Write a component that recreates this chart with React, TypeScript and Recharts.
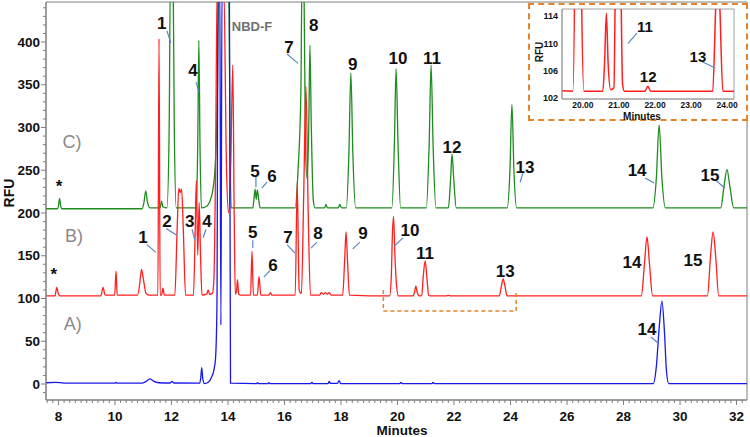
import { LineChart, Line, XAxis, YAxis, ReferenceArea, ReferenceLine, ReferenceDot } from 'recharts';

type Pt = [number, number];
type Tag = { text: string; t: number; v: number; lead?: [number, number, number, number] };

// C) trace, minutes vs RFU (offset +205)
const traceC: Pt[] = [
  [7.56, 205], [7.96, 205], [8.0, 208], [8.04, 217], [8.08, 208], [8.13, 205],
  [10.96, 205], [11.03, 213], [11.09, 226], [11.15, 213], [11.24, 206],
  [11.6, 206], [11.65, 214], [11.7, 207],
  [11.84, 206], [11.92, 300], [11.96, 470], [12.06, 470], [12.1, 300], [12.17, 206],
  [12.88, 206], [12.93, 280], [12.97, 402], [13.01, 280], [13.06, 206],
  [13.2, 207], [13.35, 213], [13.47, 228], [13.56, 262], [13.62, 330], [13.68, 470], [14.03, 470], [14.07, 300], [14.11, 206],
  [14.88, 206], [14.93, 220], [14.96, 228], [15.0, 216], [15.04, 227], [15.09, 215], [15.14, 206],
  [16.38, 206], [16.48, 250], [16.58, 340], [16.62, 470], [16.69, 470], [16.74, 280], [16.8, 240], [16.86, 300], [16.9, 396], [16.95, 300], [17.02, 215], [17.08, 206],
  [17.42, 206], [17.47, 210], [17.52, 206], [17.9, 206], [17.96, 210], [18.02, 206],
  [18.19, 206], [18.28, 270], [18.35, 364], [18.42, 270], [18.52, 206],
  [19.8, 206], [19.89, 280], [19.95, 369], [20.02, 280], [20.11, 206],
  [21.02, 206], [21.12, 280], [21.19, 373], [21.26, 280], [21.36, 206],
  [21.8, 206], [21.88, 240], [21.93, 269], [21.99, 240], [22.08, 206],
  [23.88, 206], [23.98, 250], [24.05, 327], [24.12, 250], [24.22, 206],
  [29.04, 206], [29.16, 240], [29.26, 303], [29.36, 240], [29.48, 206],
  [31.44, 206], [31.56, 232], [31.66, 251], [31.76, 232], [31.9, 206],
  [32.37, 206],
];

// B) trace (offset +103)
const traceB: Pt[] = [
  [7.56, 103], [7.88, 103], [7.94, 113], [8.0, 105], [8.06, 103],
  [9.5, 103], [9.58, 113], [9.65, 104],
  [9.99, 104], [10.04, 132], [10.08, 104],
  [10.8, 104], [10.88, 118], [10.94, 134], [11.0, 124], [11.1, 106], [11.2, 104],
  [11.52, 104], [11.56, 404], [11.6, 104],
  [11.65, 104], [11.7, 112], [11.75, 104],
  [12.12, 104], [12.2, 180], [12.26, 229], [12.31, 224], [12.36, 228], [12.42, 180], [12.5, 104],
  [12.78, 104], [12.84, 180], [12.88, 238], [12.93, 151], [12.98, 212], [13.03, 150], [13.08, 104],
  [13.25, 105], [13.3, 110], [13.35, 105], [13.45, 106],
  [13.5, 120], [13.56, 250], [13.62, 470], [13.85, 470], [13.95, 250], [14.02, 200], [14.1, 260], [14.17, 373], [14.22, 200], [14.26, 105], [14.3, 108], [14.34, 122], [14.38, 105], [14.45, 104],
  [14.8, 104], [14.85, 155], [14.9, 104],
  [15.04, 104], [15.1, 126], [15.16, 104],
  [15.45, 104], [15.5, 107], [15.55, 104],
  [16.38, 104], [16.45, 235], [16.52, 110], [16.6, 106], [16.68, 220], [16.76, 348], [16.84, 200], [16.92, 104],
  [17.25, 104], [17.3, 107], [17.38, 105], [17.45, 107], [17.52, 105], [17.58, 107], [17.65, 104],
  [18.06, 104], [18.13, 145], [18.18, 178], [18.23, 145], [18.3, 104],
  [19.72, 103], [19.78, 125], [19.82, 175], [19.86, 196], [19.91, 150], [19.96, 118], [20.03, 103],
  [20.55, 103], [20.6, 107], [20.65, 114.4], [20.7, 107], [20.77, 103.2],
  [20.86, 103.5], [20.91, 125], [20.98, 144], [21.04, 125], [21.1, 104], [21.15, 103],
  [21.72, 103], [21.8, 103.7], [21.88, 103],
  [23.6, 103], [23.68, 115], [23.74, 123], [23.8, 115], [23.88, 103],
  [28.63, 103], [28.74, 140], [28.83, 172], [28.92, 140], [29.03, 103],
  [30.97, 103], [31.08, 150], [31.17, 178], [31.26, 150], [31.37, 103],
  [32.37, 103],
];

// A) trace
const traceA: Pt[] = [
  [7.56, 1.5], [7.9, 2], [8.2, 1], [10.0, 1], [10.04, 2], [10.08, 1],
  [10.95, 1], [11.1, 3], [11.24, 6], [11.38, 3], [11.55, 1.5],
  [11.95, 1.2], [12.02, 3], [12.08, 1.2],
  [13.0, 1], [13.04, 8], [13.07, 19], [13.11, 6], [13.17, 0.5], [13.3, 2], [13.42, 8], [13.5, 16], [13.56, 30], [13.61, 90],
  [13.65, 470], [13.71, 470], [13.75, 69], [13.79, 470], [14.05, 470], [14.09, 1],
  [15.0, 0.5], [15.05, 1.5], [15.1, 0.5], [15.4, 0.5], [15.45, 1.5], [15.5, 0.5],
  [16.93, 0.5], [16.97, 2], [17.01, 0.5], [17.54, 0.5], [17.58, 3], [17.63, 0.8], [17.88, 0.8], [17.93, 4], [17.99, 0.5],
  [20.08, 0.5], [20.12, 2], [20.16, 0.5], [21.22, 0.5], [21.26, 2], [21.3, 0.5],
  [29.05, 0.5], [29.16, 20], [29.26, 65], [29.36, 97], [29.45, 60], [29.52, 15], [29.6, 0.5],
  [32.37, 0.5],
];

const xMajor = [8, 10, 12, 14, 16, 18, 20, 22, 24, 26, 28, 30, 32];
const yMajor = [0, 50, 100, 150, 200, 250, 300, 350, 400];
const insetXTicks = [20, 21, 22, 23, 24];
const insetYTicks = [102, 106, 110, 114];

const tagsC: Tag[] = [
  { text: '*', t: 8.02, v: 231.6 },
  { text: '1', t: 11.66, v: 422, lead: [11.84, 413, 11.98, 399] },
  { text: '4', t: 12.76, v: 367, lead: [12.87, 353, 12.97, 342] },
  { text: '5', t: 14.96, v: 249, lead: [14.99, 242, 14.99, 230] },
  { text: '6', t: 15.56, v: 243, lead: [15.38, 236, 15.2, 229] },
  { text: '7', t: 16.16, v: 394, lead: [16.09, 386, 16.48, 375] },
  { text: '8', t: 17.04, v: 420 },
  { text: '9', t: 18.42, v: 374 },
  { text: '10', t: 20.02, v: 381 },
  { text: '11', t: 21.22, v: 381 },
  { text: '12', t: 21.93, v: 277 },
  { text: '13', t: 24.51, v: 254, lead: [24.44, 247, 24.34, 236] },
  { text: '14', t: 28.48, v: 250, lead: [28.76, 241, 29.08, 235] },
  { text: '15', t: 31.06, v: 244, lead: [31.24, 239, 31.59, 229] },
];

const tagsB: Tag[] = [
  { text: '*', t: 7.84, v: 128.7 },
  { text: '1', t: 10.99, v: 172, lead: [11.13, 163, 11.45, 154] },
  { text: '2', t: 11.84, v: 191, lead: [11.81, 182, 12.19, 174] },
  { text: '3', t: 12.65, v: 191, lead: [12.73, 181, 12.83, 168] },
  { text: '4', t: 13.26, v: 191, lead: [13.22, 181, 13.12, 171] },
  { text: '5', t: 14.88, v: 178, lead: [14.88, 168, 14.88, 159] },
  { text: '6', t: 15.59, v: 139, lead: [15.49, 133, 15.27, 125] },
  { text: '7', t: 16.12, v: 172, lead: [16.09, 163, 16.37, 153] },
  { text: '8', t: 17.19, v: 177, lead: [17.15, 166, 16.94, 159] },
  { text: '9', t: 18.78, v: 177, lead: [18.67, 166, 18.42, 158] },
  { text: '10', t: 20.44, v: 180, lead: [20.19, 171, 19.88, 161] },
  { text: '11', t: 20.97, v: 153 },
  { text: '13', t: 23.81, v: 132 },
  { text: '14', t: 28.3, v: 143 },
  { text: '15', t: 30.46, v: 145 },
];

const tagsA: Tag[] = [
  { text: '14', t: 28.83, v: 64, lead: [28.97, 55, 29.22, 48] },
];

const groupTags: Tag[] = [
  { text: 'C)', t: 8.48, v: 284 },
  { text: 'B)', t: 8.55, v: 173 },
  { text: 'A)', t: 8.51, v: 71 },
];

const insetTags: Tag[] = [
  { text: '11', t: 21.72, v: 112.4, lead: [21.25, 110.0, 21.5, 111.5] },
  { text: '12', t: 21.81, v: 105.1 },
  { text: '13', t: 23.19, v: 108.0, lead: [23.31, 107.3, 23.67, 106.4] },
];

// zoom bracket under the red trace (minutes, RFU)
const bracket: Pt[] = [[19.5, 110], [19.5, 85.4], [24.2, 85.4], [24.2, 110]];

const FONT = '"Liberation Sans", Arial, sans-serif';
const AXIS = '#7f7f7f';
const GREEN = '#1e8c1e';
const RED = '#ff1f1f';
const BLUE = '#1717f0';
const LEAD = '#5a86c2';
const ORANGE = '#e5832a';
const X_DOM: [number, number] = [7.56, 32.37];
const Y_DOM: [number, number] = [-18.7, 446.8];

const toRows = (pts: Pt[]) => pts.map(([t, v]) => ({ t, v }));

// minor ticks: every 0.2 min and every 10 RFU
const xMinor = Array.from({ length: 124 }, (_, i) => +(7.6 + i * 0.2).toFixed(1));
const yMinor = Array.from({ length: 46 }, (_, i) => -10 + i * 10);

function XTick({ x, y, payload }: any) {
  const val = payload.value as number;
  const major = xMajor.some((m) => Math.abs(m - val) < 1e-6);
  return (
    <g>
      <line x1={x} y1={y} x2={x} y2={y + (major ? 5 : 3)} stroke={AXIS} />
      {major && (
        <text x={x} y={y + 16} dy="0.35em" textAnchor="middle" fontSize={13.5} fontWeight={700} fill="#111" fontFamily={FONT}>
          {Math.round(val)}
        </text>
      )}
    </g>
  );
}

function YTick({ x, y, payload }: any) {
  const val = payload.value as number;
  const major = yMajor.includes(val);
  return (
    <g>
      <line x1={x - (major ? 5 : 3)} y1={y} x2={x} y2={y} stroke={AXIS} />
      {major && (
        <text x={x - 6} y={y} dy="0.35em" textAnchor="end" fontSize={13.5} fontWeight={700} fill="#111" fontFamily={FONT}>
          {val}
        </text>
      )}
    </g>
  );
}

function RightTick({ x, y }: any) {
  return <line x1={x} y1={y} x2={x + 3} y2={y} stroke={AXIS} />;
}

function renderTags(tags: Tag[], size: number, color = '#111', weight = 700) {
  return tags.flatMap((tg, i) => {
    const out = [
      <ReferenceDot
        key={`d${tg.text}${i}${tg.t}`}
        x={tg.t}
        y={tg.v}
        r={0}
        fill="none"
        stroke="none"
        label={{ value: tg.text, position: 'center', fontSize: size, fontWeight: weight, fill: color, fontFamily: FONT }}
      />,
    ];
    if (tg.lead) {
      const [t1, v1, t2, v2] = tg.lead;
      out.push(
        <ReferenceLine
          key={`l${tg.text}${i}${tg.t}`}
          segment={[{ x: t1, y: v1 }, { x: t2, y: v2 }]}
          stroke={LEAD}
          strokeWidth={1.2}
        />
      );
    }
    return out;
  });
}

const label = (extra: React.CSSProperties): React.CSSProperties => ({
  position: 'absolute',
  fontFamily: FONT,
  fontWeight: 700,
  color: '#111',
  lineHeight: 1,
  whiteSpace: 'nowrap',
  transform: 'translate(-50%, -50%)',
  ...extra,
});

export default function App() {
  const dataC = toRows(traceC);
  const dataB = toRows(traceB);
  const dataA = toRows(traceA);

  return (
    <div style={{ position: 'absolute', left: 0, top: 0, width: 750, height: 437, background: '#fff' }}>
      <LineChart width={750} height={437} margin={{ top: 2, right: 3, bottom: 0, left: 0 }}>
        <XAxis
          type="number"
          dataKey="t"
          domain={X_DOM}
          allowDataOverflow
          ticks={xMinor}
          interval={0}
          tick={<XTick />}
          tickLine={false}
          tickSize={0}
          tickMargin={0}
          height={37}
          axisLine={{ stroke: AXIS }}
        />
        <YAxis
          type="number"
          domain={Y_DOM}
          allowDataOverflow
          ticks={yMinor}
          interval={0}
          tick={<YTick />}
          tickLine={false}
          tickSize={0}
          tickMargin={0}
          width={46}
          axisLine={{ stroke: AXIS }}
        />
        <YAxis
          yAxisId="right"
          orientation="right"
          type="number"
          domain={Y_DOM}
          allowDataOverflow
          ticks={yMinor}
          interval={0}
          tick={<RightTick />}
          tickLine={false}
          tickSize={0}
          tickMargin={0}
          width={0}
          axisLine={{ stroke: AXIS }}
        />
        <ReferenceArea x1={X_DOM[0]} x2={X_DOM[1]} y1={Y_DOM[0]} y2={Y_DOM[1]} fill="none" stroke={AXIS} />

        <Line data={dataC} dataKey="v" type="monotone" stroke={GREEN} strokeWidth={1.3} dot={false} isAnimationActive={false} />
        <Line data={dataB} dataKey="v" type="monotone" stroke={RED} strokeWidth={1.3} dot={false} isAnimationActive={false} />
        <Line data={dataA} dataKey="v" type="monotone" stroke={BLUE} strokeWidth={1.3} dot={false} isAnimationActive={false} />

        {bracket.slice(1).map((p, i) => (
          <ReferenceLine
            key={`b${i}`}
            segment={[{ x: bracket[i][0], y: bracket[i][1] }, { x: p[0], y: p[1] }]}
            stroke={ORANGE}
            strokeWidth={1.5}
            strokeDasharray="4 3"
          />
        ))}

        {renderTags(tagsC, 17)}
        {renderTags(tagsB, 17)}
        {renderTags(tagsA, 17)}
        {renderTags(groupTags, 18, '#8a8a8a', 400)}
        {renderTags([{ text: 'NBD-F', t: 14.85, v: 418 }], 13, '#707070')}
      </LineChart>

      <div style={label({ left: 9, top: 193, fontSize: 14, transform: 'translate(-50%, -50%) rotate(-90deg)' })}>RFU</div>
      <div style={label({ left: 402, top: 431, fontSize: 13.5 })}>Minutes</div>

      <div
        style={{
          position: 'absolute',
          left: 528,
          top: 3,
          width: 220,
          height: 118,
          boxSizing: 'border-box',
          border: `2px dashed ${ORANGE}`,
          background: '#fff',
        }}
      >
        <LineChart width={216} height={114} margin={{ top: 4, right: 12, bottom: 0, left: 0 }}>
          <XAxis
            type="number"
            dataKey="t"
            domain={[19.42, 24.19]}
            allowDataOverflow
            ticks={insetXTicks}
            interval={0}
            tickFormatter={(v: number) => v.toFixed(2)}
            tickLine={false}
            tickSize={0}
            tickMargin={3}
            height={20}
            axisLine={{ stroke: '#a0a0a0' }}
            tick={{ fontSize: 8.5, fontWeight: 700, fill: '#111', fontFamily: FONT }}
          />
          <YAxis
            type="number"
            domain={[101.85, 115.03]}
            allowDataOverflow
            ticks={insetYTicks}
            interval={0}
            tickLine={false}
            tickSize={0}
            tickMargin={4}
            width={32}
            axisLine={{ stroke: '#a0a0a0' }}
            tick={{ fontSize: 9, fontWeight: 700, fill: '#111', fontFamily: FONT }}
          />
          <ReferenceArea x1={19.42} x2={24.19} y1={101.85} y2={115.03} fill="none" stroke="#a0a0a0" />
          <Line data={dataB} dataKey="v" type="monotone" stroke={RED} strokeWidth={1.5} dot={false} isAnimationActive={false} />
          {renderTags(insetTags, 15)}
        </LineChart>
        <div style={label({ left: 9.5, top: 47, fontSize: 10, transform: 'translate(-50%, -50%) rotate(-90deg)' })}>RFU</div>
        <div style={label({ left: 112, top: 112, fontSize: 10 })}>Minutes</div>
      </div>
    </div>
  );
}
